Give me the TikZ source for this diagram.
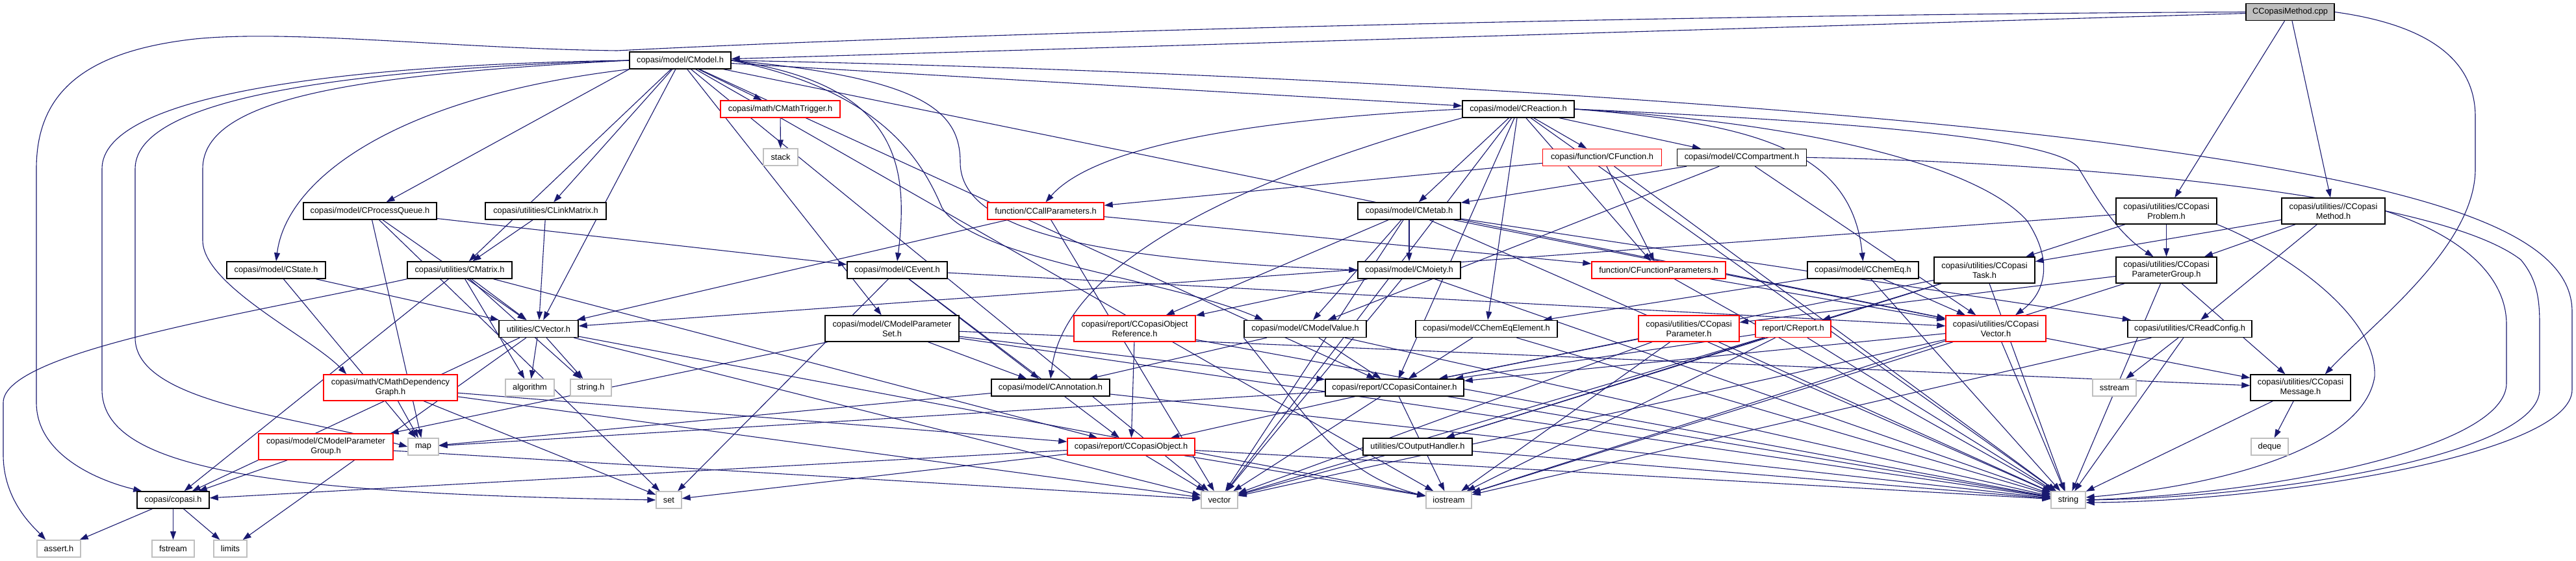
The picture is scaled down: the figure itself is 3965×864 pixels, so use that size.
\documentclass[tikz,border=0pt]{standalone}
\usepackage{fontspec}
\setmainfont{Liberation Sans}
\usetikzlibrary{arrows.meta}
\pgfdeclarelayer{bg}
\pgfsetlayers{bg,main}
\definecolor{eblue}{HTML}{191970}
\definecolor{sysgray}{HTML}{BFBFBF}
\definecolor{nred}{HTML}{FF0000}
\tikzset{
  base/.style={rectangle, inner sep=0pt, minimum height=26pt, align=center,
    font=\fontsize{12.8}{15}\selectfont, line width=1.4pt, fill=white},
  nb/.style={base, draw=black},
  nr/.style={base, draw=nred},
  ng/.style={base, draw=sysgray},
  nroot/.style={base, draw=black, fill=sysgray},
  tall/.style={minimum height=40pt},
  edg/.style={draw=eblue, line width=1.1pt, -{Triangle[length=13pt,width=9pt]}}
}
\begin{document}
\begin{tikzpicture}[x=1pt,y=-1pt]
\useasboundingbox (0,0) rectangle (3965,864);
% ---------- nodes ----------
\node[nroot,minimum width=136pt] (cpp) at (3525,18.5) {CCopasiMethod.cpp};
\node[nb,minimum width=156pt] (cmodel) at (1047,93) {copasi/model/CModel.h};
\node[nr,minimum width=184pt] (trigger) at (1201,168) {copasi/math/CMathTrigger.h};
\node[ng,minimum width=53pt] (stack) at (1201.5,242) {stack};
\node[nb,minimum width=172pt] (reaction) at (2337,168) {copasi/model/CReaction.h};
\node[nr,minimum width=183pt] (function) at (2466,242.5) {copasi/function/CFunction.h};
\node[nb,minimum width=199pt] (compartment) at (2681,242.5) {copasi/model/CCompartment.h};
\node[nr,minimum width=179pt] (callparams) at (1609.5,325) {function/CCallParameters.h};
\node[nb,minimum width=158pt] (metab) at (2169,325) {copasi/model/CMetab.h};
\node[nb,tall,minimum width=155pt] (problem) at (3334.5,325) {copasi/utilities/CCopasi\\Problem.h};
\node[nb,tall,minimum width=159pt] (methodh) at (3591.5,325) {copasi/utilities//CCopasi\\Method.h};
\node[nb,minimum width=205pt] (procqueue) at (569.5,325) {copasi/model/CProcessQueue.h};
\node[nb,minimum width=186pt] (linkmatrix) at (840,325) {copasi/utilities/CLinkMatrix.h};
\node[nb,minimum width=152pt] (state) at (425,416) {copasi/model/CState.h};
\node[nb,minimum width=161pt] (matrix) at (707.5,416) {copasi/utilities/CMatrix.h};
\node[nb,minimum width=154pt] (event) at (1381,416) {copasi/model/CEvent.h};
\node[nb,minimum width=158pt] (moiety) at (2169,416) {copasi/model/CMoiety.h};
\node[nr,minimum width=206pt] (funcparams) at (2553,416) {function/CFunctionParameters.h};
\node[nb,minimum width=171pt] (chemeq) at (2867.5,416) {copasi/model/CChemEq.h};
\node[nb,tall,minimum width=155pt] (task) at (3054.5,416) {copasi/utilities/CCopasi\\Task.h};
\node[nb,tall,minimum width=155pt] (paramgroup) at (3334.5,416) {copasi/utilities/CCopasi\\ParameterGroup.h};
\node[nb,minimum width=122pt] (cvector) at (829,506.5) {utilities/CVector.h};
\node[nb,tall,minimum width=206pt] (mpset) at (1373,506) {copasi/model/CModelParameter\\Set.h};
\node[nr,tall,minimum width=187pt] (objref) at (1746.5,506) {copasi/report/CCopasiObject\\Reference.h};
\node[nb,minimum width=188pt] (modelvalue) at (2009,506.5) {copasi/model/CModelValue.h};
\node[nb,minimum width=218pt] (chemeqel) at (2288,506.5) {copasi/model/CChemEqElement.h};
\node[nr,tall,minimum width=155pt] (param) at (2599.5,506) {copasi/utilities/CCopasi\\Parameter.h};
\node[nr,minimum width=116pt] (report) at (2760,506.5) {report/CReport.h};
\node[nr,tall,minimum width=154pt] (copasivector) at (3072,506) {copasi/utilities/CCopasi\\Vector.h};
\node[nb,minimum width=191pt] (readconfig) at (3370.5,506.5) {copasi/utilities/CReadConfig.h};
\node[nr,tall,minimum width=206pt] (mathdep) at (601,597) {copasi/math/CMathDependency\\Graph.h};
\node[ng,minimum width=75pt] (algorithm) at (815.5,597) {algorithm};
\node[ng,minimum width=63pt] (stringh) at (909.5,597) {string.h};
\node[nb,minimum width=182pt] (annotation) at (1617,597) {copasi/model/CAnnotation.h};
\node[nb,minimum width=213pt] (container) at (2146.5,597) {copasi/report/CCopasiContainer.h};
\node[ng,minimum width=67pt] (sstream) at (3254.5,597) {sstream};
\node[nb,tall,minimum width=154pt] (message) at (3541,597) {copasi/utilities/CCopasi\\Message.h};
\node[nr,tall,minimum width=207pt] (mpgroup) at (501.5,688) {copasi/model/CModelParameter\\Group.h};
\node[ng,minimum width=47pt] (map) at (651.5,688) {map};
\node[nr,minimum width=196pt] (object) at (1741,688) {copasi/report/CCopasiObject.h};
\node[nb,minimum width=168pt] (outhandler) at (2182,688) {utilities/COutputHandler.h};
\node[ng,minimum width=57pt] (deque) at (3493.5,688) {deque};
\node[nb,minimum width=111pt] (copasih) at (266.5,770) {copasi/copasi.h};
\node[ng,minimum width=39pt] (set) at (1029.5,770) {set};
\node[ng,minimum width=56pt] (vector) at (1877,770) {vector};
\node[ng,minimum width=70pt] (iostream) at (2230,770) {iostream};
\node[ng,minimum width=53pt] (string) at (3183.5,770) {string};
\node[ng,minimum width=67pt] (assert) at (90.5,845) {assert.h};
\node[ng,minimum width=65pt] (fstream) at (266.5,845) {fstream};
\node[ng,minimum width=51pt] (limits) at (354.5,845) {limits};
% ---------- edges ----------
\begin{pgfonlayer}{bg}
\fill[white] (0,0) rectangle (3965,864);
% cpp
\draw[edg] (cpp) -- (cmodel);
\draw[edg] (cpp) -- (problem);
\draw[edg] (cpp) -- (methodh);
\draw[edg] (cpp.east) .. controls (3750,40) and (3810,100) .. (3810,180) -- (3810,260) .. controls (3810,380) and (3650,500) .. ([xshift=-40pt]message.north east);
\draw[edg] (cpp.west) .. controls (2600,22) and (1500,50) .. (950,78) .. controls (700,75) and (450,45) .. (300,60) .. controls (120,80) and (56,150) .. (56,260) -- (56,620) .. controls (56,700) and (150,740) .. ([xshift=8pt]copasih.north west);
% cmodel
\draw[edg] (cmodel) -- (trigger);
\draw[edg] (cmodel) -- (reaction);
\draw[edg] (cmodel.south west) -- (procqueue);
\draw[edg] (cmodel) -- (linkmatrix);
\draw[edg] (cmodel.south west) .. controls (600,150) and (440,280) .. (state.north);
\draw[edg] (cmodel) -- (matrix);
\draw[edg] (cmodel.east) .. controls (1380,130) and (1400,250) .. (event.north);
\draw[edg] (cmodel.east) .. controls (1420,120) and (1478,170) .. (1478,250) .. controls (1478,360) and (1700,400) .. (moiety.west);
\draw[edg] (cmodel.east) .. controls (1360,140) and (1420,250) .. (1450,320) .. controls (1500,400) and (1800,430) .. ([xshift=30pt]modelvalue.north west);
\draw[edg] (cmodel) -- (mpset);
\draw[edg] (cmodel.west) .. controls (550,115) and (312,150) .. (312,260) -- (312,370) .. controls (312,440) and (480,520) .. ([xshift=36pt]mathdep.north west);
\draw[edg] (cmodel.west) .. controls (600,105) and (208,140) .. (208,260) -- (208,520) .. controls (208,620) and (450,640) .. (map.west);
\draw[edg] (cmodel.west) .. controls (500,100) and (157,150) .. (157,260) -- (157,600) .. controls (157,720) and (400,760) .. (set.west);
\draw[edg] (cmodel) -- (cvector);
\draw[edg] (cmodel.east) .. controls (2000,110) and (2900,170) .. (3300,228) .. controls (3750,290) and (3959,360) .. (3959,480) -- (3959,600) .. controls (3959,700) and (3500,772) .. ([yshift=-4pt]string.east);
\draw[edg] (cmodel) -- (vector);
\draw[edg] (cmodel) -- (copasivector);
\draw[edg] (cmodel) -- (container);
\draw[edg] (cmodel) -- (iostream);
% trigger
\draw[edg] (trigger) -- (stack);
% reaction
\draw[edg] (reaction) -- (function);
\draw[edg] (reaction) -- (compartment);
\draw[edg] (reaction.west) .. controls (1900,185) and (1680,230) .. (callparams.north);
\draw[edg] (reaction) -- (metab);
\draw[edg] (reaction) -- (funcparams);
\draw[edg] (reaction.east) .. controls (2700,190) and (2850,230) .. (chemeq.north);
\draw[edg] (reaction.east) .. controls (2800,185) and (3170,210) .. (3200,260) .. controls (3230,310) and (3260,360) .. ([xshift=-20pt]paramgroup.north);
\draw[edg] (reaction.east) .. controls (2800,190) and (3050,260) .. (3120,340) .. controls (3160,400) and (3150,450) .. ([xshift=30pt]copasivector.north);
\draw[edg] (reaction) -- (chemeqel);
\draw[edg] (reaction.south west) .. controls (2000,250) and (1640,380) .. (annotation.north);
\draw[edg] (reaction) -- (container);
\draw[edg] (reaction) -- (vector);
\draw[edg] (reaction) -- (string);
% function
\draw[edg] (function) -- (callparams);
\draw[edg] (function) -- (funcparams);
\draw[edg] (function) -- (string);
% compartment
\draw[edg] (compartment) -- (metab);
\draw[edg] (compartment) -- (modelvalue);
\draw[edg] (compartment) -- (copasivector);
\draw[edg] (compartment.east) .. controls (3200,250) and (3750,300) .. (3880,400) .. controls (3905,430) and (3909,460) .. (3909,500) -- (3909,600) .. controls (3909,700) and (3500,766) .. (string.east);
% callparams
\draw[edg] (callparams) -- (funcparams);
\draw[edg] (callparams) -- (cvector);
\draw[edg] (callparams) -- (vector);
% metab
\draw[edg] (metab) -- (moiety);
\draw[edg] (metab) -- (objref);
\draw[edg] (metab) -- (modelvalue);
\draw[edg] (metab) -- (copasivector);
\draw[edg] (metab) -- (readconfig);
\draw[edg] (metab) -- (string);
\draw[edg] (metab) -- (vector);
% moiety
\draw[edg] (moiety) -- (objref);
\draw[edg] (moiety) -- (vector);
\draw[edg] (moiety) -- (string);
% funcparams
\draw[edg] (funcparams) -- (copasivector);
\draw[edg] (funcparams) -- (string);
% chemeq
\draw[edg] (chemeq) -- (chemeqel);
\draw[edg] (chemeq) -- (copasivector);
\draw[edg] (chemeq) -- (string);
% procqueue
\draw[edg] (procqueue) -- (event);
\draw[edg] (procqueue) -- (map);
\draw[edg] (procqueue) -- (set);
\draw[edg] (procqueue) -- (cvector);
% linkmatrix
\draw[edg] (linkmatrix) -- (matrix);
\draw[edg] (linkmatrix) -- (cvector);
% state
\draw[edg] (state) -- (map);
\draw[edg] (state) -- (cvector);
% matrix
\draw[edg] (matrix) -- (cvector);
\draw[edg] (matrix) -- (algorithm);
\draw[edg] (matrix) -- (stringh);
\draw[edg] (matrix.south west) .. controls (400,480) and (5,540) .. (5,620) -- (5,700) .. controls (5,770) and (50,810) .. ([xshift=14pt]assert.north west);
\draw[edg] (matrix) -- (copasih);
\draw[edg] (matrix) -- (object);
% event
\draw[edg] (event) -- (set);
\draw[edg] (event) -- (annotation);
\draw[edg] (event) -- (copasivector);
\draw[edg] (event) -- (object);
% task
\draw[edg] (task) -- (report);
\draw[edg] (task) -- (outhandler);
\draw[edg] (task) -- (container);
\draw[edg] (task) -- (string);
% problem
\draw[edg] (problem) -- (task);
\draw[edg] (problem) -- (paramgroup);
\draw[edg] (problem) -- (cvector);
\draw[edg] (problem.south east) .. controls (3500,380) and (3660,480) .. (3655,580) .. controls (3640,680) and (3450,745) .. ([yshift=4pt]string.east);
% methodh
\draw[edg] (methodh) -- (task);
\draw[edg] (methodh) -- (paramgroup);
\draw[edg] (methodh) -- (readconfig);
\draw[edg] (methodh.east) .. controls (3780,360) and (3858,420) .. (3858,500) -- (3858,590) .. controls (3858,690) and (3500,760) .. (string.east);
% paramgroup
\draw[edg] (paramgroup) -- (param);
\draw[edg] (paramgroup) -- (message);
\draw[edg] (paramgroup) -- (string);
\draw[edg] (paramgroup) -- (iostream);
% cvector
\draw[edg] (cvector) -- (algorithm);
\draw[edg] (cvector) -- (stringh);
\draw[edg] (cvector) -- (limits);
\draw[edg] (cvector) -- (copasih);
\draw[edg] (cvector) -- (vector);
\draw[edg] (cvector) -- (iostream);
% mpset
\draw[edg] (mpset) -- (mpgroup);
\draw[edg] (mpset) -- (annotation);
\draw[edg] (mpset) -- (container);
\draw[edg] (mpset) -- (message);
\draw[edg] (mpset) -- (string);
% objref
\draw[edg] (objref) -- (object);
\draw[edg] (objref) -- (string);
% modelvalue
\draw[edg] (modelvalue) -- (container);
\draw[edg] (modelvalue) -- (annotation);
\draw[edg] (modelvalue.south west) .. controls (2012,640) and (2060,730) .. ([yshift=6pt]iostream.west);
\draw[edg] (modelvalue) -- (string);
% chemeqel
\draw[edg] (chemeqel) -- (container);
\draw[edg] (chemeqel) -- (string);
% param
\draw[edg] (param) -- (container);
\draw[edg] (param) -- (string);
\draw[edg] (param) -- (vector);
\draw[edg] (param) -- (iostream);
% report
\draw[edg] (report) -- (outhandler);
\draw[edg] (report) -- (container);
\draw[edg] (report) -- (string);
\draw[edg] (report) -- (vector);
\draw[edg] (report) -- (iostream);
% copasivector
\draw[edg] (copasivector) -- (container);
\draw[edg] (copasivector) -- (message);
\draw[edg] (copasivector) -- (string);
\draw[edg] (copasivector) -- (vector);
\draw[edg] (copasivector) -- (iostream);
% readconfig
\draw[edg] (readconfig) -- (sstream);
\draw[edg] (readconfig) -- (string);
\draw[edg] (readconfig) -- (iostream);
% mathdep
\draw[edg] (mathdep) -- (map);
\draw[edg] (mathdep) -- (set);
\draw[edg] (mathdep) -- (vector);
\draw[edg] (mathdep) -- (object);
% annotation
\draw[edg] (annotation) -- (map);
\draw[edg] (annotation) -- (string);
% container
\draw[edg] (container) -- (object);
\draw[edg] (container) -- (map);
\draw[edg] (container) -- (vector);
\draw[edg] (container) -- (string);
\draw[edg] (container) -- (iostream);
% message
\draw[edg] (message) -- (deque);
\draw[edg] (message) -- (string);
% mpgroup
\draw[edg] (mpgroup) -- (copasih);
\draw[edg] (mpgroup) -- (vector);
% object
\draw[edg] (object) -- (vector);
\draw[edg] (object) -- (copasih);
\draw[edg] (object) -- (set);
\draw[edg] (object) -- (string);
\draw[edg] (object) -- (iostream);
% outhandler
\draw[edg] (outhandler) -- (vector);
\draw[edg] (outhandler) -- (string);
% copasih
\draw[edg] (copasih) -- (assert);
\draw[edg] (copasih) -- (fstream);
\draw[edg] (copasih) -- (limits);
\end{pgfonlayer}
\end{tikzpicture}
\end{document}
